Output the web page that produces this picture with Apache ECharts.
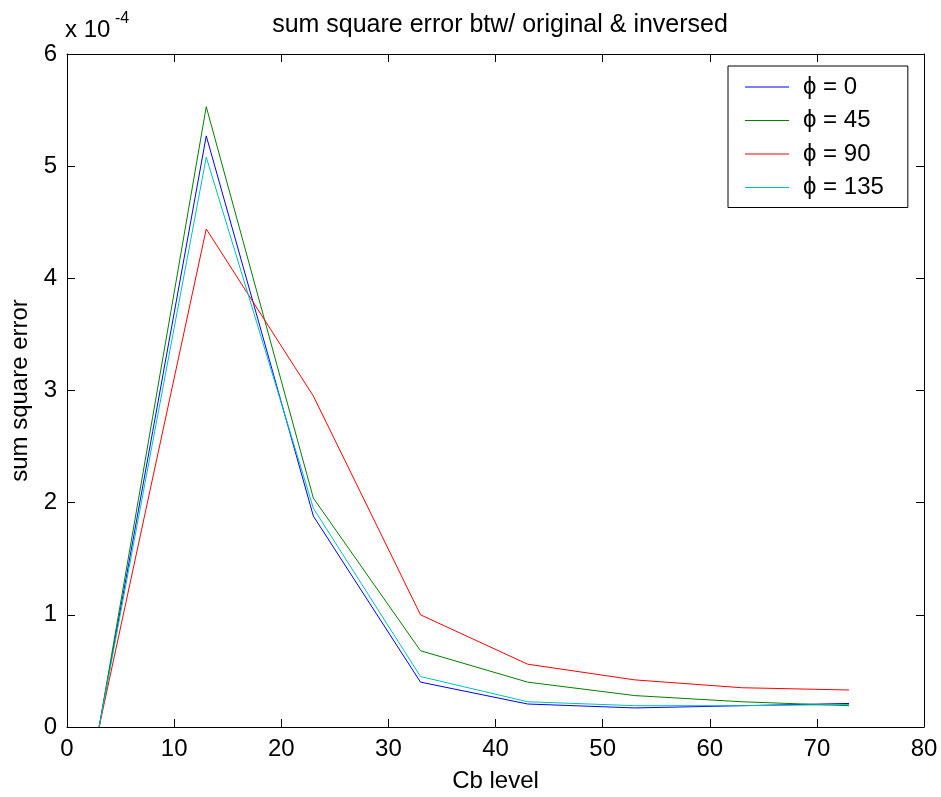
<!DOCTYPE html>
<html>
<head>
<meta charset="utf-8">
<script src="https://cdn.jsdelivr.net/npm/echarts@6/dist/echarts.min.js"></script>
<style>html,body{margin:0;padding:0;background:#fff}#c{width:941px;height:797px}</style>
</head>
<body>
<div id="c"></div>
<script>
// Cb levels (x) and sum square errors in units of 1e-4
const cbLevels = [3, 13, 23, 33, 43, 53, 63, 73];
const phi0   = [0, 5.27, 1.88, 0.40, 0.205, 0.17, 0.19, 0.21];
const phi45  = [0, 5.53, 2.04, 0.68, 0.40, 0.28, 0.225, 0.19];
const phi90  = [0, 4.44, 2.95, 1.00, 0.56, 0.42, 0.35, 0.33];
const phi135 = [0, 5.08, 1.95, 0.45, 0.225, 0.19, 0.19, 0.20];
const seriesNames = ['ϕ = 0', 'ϕ = 45', 'ϕ = 90', 'ϕ = 135'];
const seriesColors = ['#0000ff', '#008000', '#ff0000', '#00bfbf'];
const titleText = 'sum square error btw/ original & inversed';
const xLabel = 'Cb level';
const yLabel = 'sum square error';
const scaleBase = 'x 10';
const scaleExp = '-4';

const font = 'Liberation Sans, Arial, Helvetica, sans-serif';
const allData = [phi0, phi45, phi90, phi135];
const chart = echarts.init(document.getElementById('c'));
const G = {left: 67, right: 17, top: 54, bottom: 70, outerBoundsMode: 'none', containLabel: false};
function common() {
  return {
    axisLine: {show: true, onZero: false, lineStyle: {color: '#000', width: 1}},
    axisTick: {show: true, inside: true, length: 8, lineStyle: {color: '#000'}},
    splitLine: {show: false}
  };
}
chart.setOption({
  animation: false,
  backgroundColor: '#fff',
  title: {
    text: titleText, left: 495, top: 8, textAlign: 'center',
    textStyle: {fontFamily: font, fontSize: 25, fontWeight: 'normal', color: '#000'}
  },
  graphic: [
    {type: 'text', x: 65, y: 30,
     style: {text: scaleBase, fontFamily: font, fontSize: 24, fill: '#000', verticalAlign: 'middle'}},
    {type: 'text', x: 115, y: 19,
     style: {text: scaleExp, fontFamily: font, fontSize: 16, fill: '#000', verticalAlign: 'middle'}}
  ],
  legend: {
    orient: 'vertical', left: 728, top: 66,
    borderColor: '#000', borderWidth: 1, backgroundColor: '#fff',
    padding: [9, 24, 8, 17],
    icon: 'rect',
    itemWidth: 44, itemHeight: 1, itemGap: 9.5,
    textStyle: {fontFamily: font, fontSize: 24, lineHeight: 24, color: '#000', padding: [0, 0, 0, 9]},
    data: seriesNames
  },
  grid: G,
  xAxis: [
    Object.assign({
      type: 'value', min: 0, max: 80, interval: 10, position: 'bottom',
      name: xLabel, nameLocation: 'middle', nameGap: 42,
      nameTextStyle: {fontFamily: font, fontSize: 24, color: '#000'},
      axisLabel: {fontFamily: font, fontSize: 24, color: '#000', margin: 10}
    }, common()),
    Object.assign({
      type: 'value', min: 0, max: 80, interval: 10, position: 'top',
      axisLabel: {show: false}
    }, common())
  ],
  yAxis: [
    Object.assign({
      type: 'value', min: 0, max: 6, interval: 1, position: 'left',
      name: yLabel, nameLocation: 'middle', nameGap: 35,
      nameTextStyle: {fontFamily: font, fontSize: 24, color: '#000'},
      axisLabel: {fontFamily: font, fontSize: 24, color: '#000', margin: 10}
    }, common()),
    Object.assign({
      type: 'value', min: 0, max: 6, interval: 1, position: 'right',
      axisLabel: {show: false}
    }, common())
  ],
  series: allData.map((d, i) => ({
    name: seriesNames[i], type: 'line', symbol: 'none',
    data: cbLevels.map((x, j) => [x, d[j]]),
    lineStyle: {color: seriesColors[i], width: 1},
    itemStyle: {color: seriesColors[i]}
  }))
});
</script>
</body>
</html>
